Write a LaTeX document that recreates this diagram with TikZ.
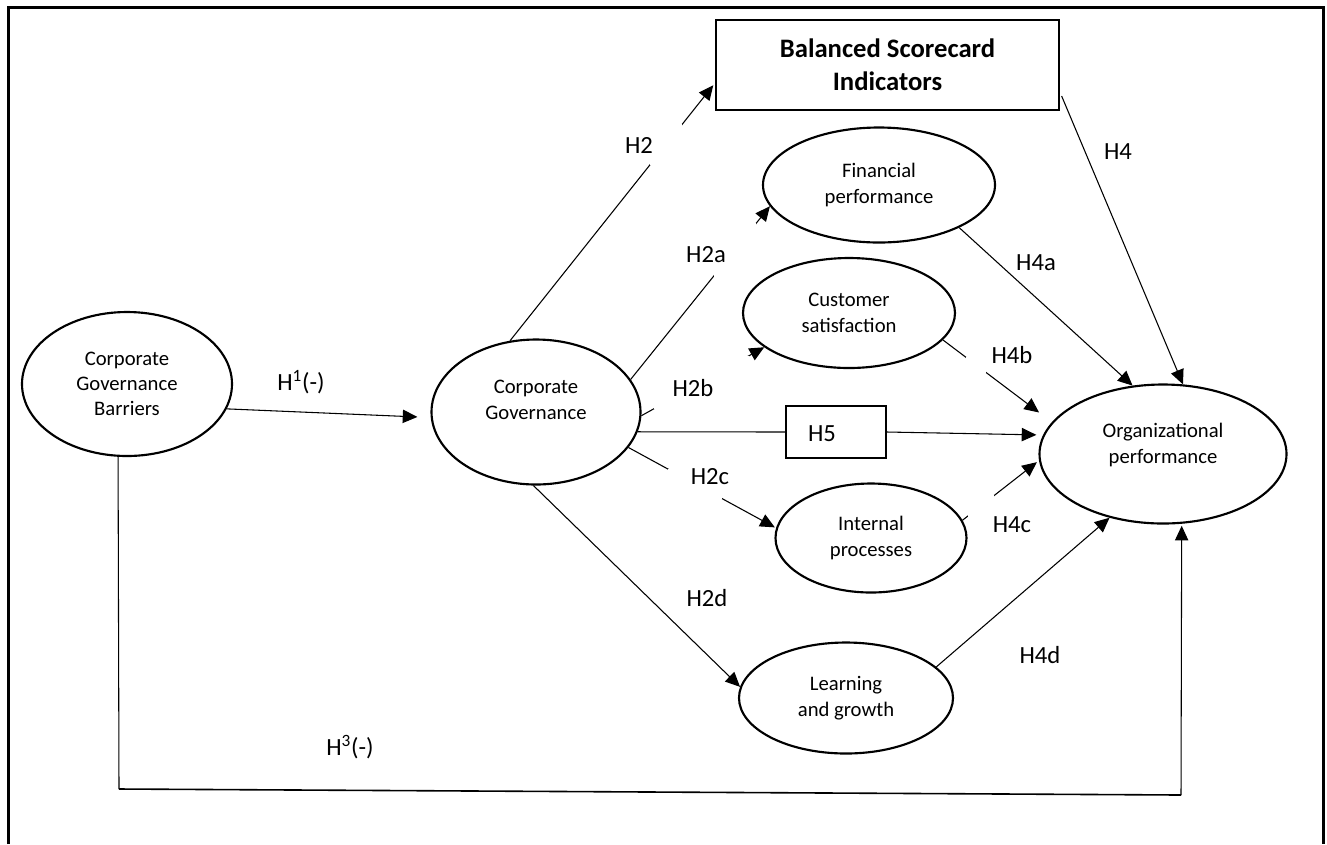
\documentclass[tikz,border=0pt]{standalone}
\usepackage{fontspec}
\setmainfont{Carlito}
\usetikzlibrary{shapes.geometric,arrows.meta}
\begin{document}
\begin{tikzpicture}[x=0.75pt,y=-0.75pt,
  ell/.style={ellipse, draw, line width=1.6pt, inner sep=0pt},
  boxnode/.style={rectangle, draw, line width=1.6pt, inner sep=0pt},
  txt/.style={align=center, font=\fontsize{15.5}{19}\selectfont, inner sep=0pt},
  lbl/.style={font=\fontsize{18.5}{22}\selectfont, inner sep=0pt},
  conn/.style={line width=0.8pt},
  arr/.style={conn, -{Triangle[length=11pt,width=10pt]}},
  gap/.style={fill=white, draw=none, inner sep=0pt},
]
\useasboundingbox (0,0) rectangle (1327,844);

% outer frame (open at the bottom)
\draw[line width=2.25pt] (8,844) -- (8,7) -- (1323,7) -- (1323,844);

% constructs
\node[ell, txt, minimum width=157.5pt, minimum height=108pt] (cgb) at (127,384) {Corporate\\Governance\\Barriers};
\node[ell, minimum width=156.75pt, minimum height=108.75pt] (cg) at (536,412) {};
\node[txt] (cg-t) at (536,400) {Corporate\\Governance};
\node[boxnode, minimum width=257.25pt, minimum height=67.5pt, align=center,
      font=\fontsize{20}{24.75}\selectfont\bfseries] (bsc) at (887.5,65) {Balanced Scorecard\\Indicators};
\node[ell, txt, minimum width=174pt, minimum height=86.25pt] (fp) at (879,185) {Financial\\performance};
\node[ell, txt, minimum width=159pt, minimum height=82.5pt] (cs) at (849,313) {Customer\\satisfaction};
\node[ell, txt, minimum width=143.25pt, minimum height=81.75pt] (ip) at (871,538) {Internal\\processes};
\node[ell, txt, minimum width=160.5pt, minimum height=83.25pt] (lg) at (846,698) {Learning\\and growth};
\node[ell, minimum width=185.25pt, minimum height=104.25pt] (op) at (1163,454) {};
\node[txt] (op-t) at (1163,445) {Organizational\\performance};
\node[boxnode, minimum width=75pt, minimum height=39pt] (h5) at (836,432) {};
\node[lbl] (h5-t) at (822,434) {H5};

% hypotheses paths
\draw[arr, shorten >=10pt] (cgb.-14) -- (cg.183);
\draw[arr, shorten >=2pt] (cg.110.4) -- node[gap, pos=0.761, minimum width=24pt, minimum height=31pt] (g2) {} (bsc.186.6);
\draw[arr] (cg.19) -- node[gap, pos=0.75, minimum width=31.5pt, minimum height=40.5pt] (g2a) {} (fp.191.4);
\draw[arr] (cg.-2.2) -- node[gap, pos=0.488, minimum width=71pt, minimum height=40pt] (g2b) {} (cs.202.5);
\draw[arr, shorten >=1pt] (cg.-21.9) -- node[gap, pos=0.452, minimum width=40pt, minimum height=22.5pt] (g2c) {} (ip.174);
\draw[conn] (cg.-11.6) -- (h5.west);
\draw[arr, shorten >=5pt] (h5.east) -- (op.171);
\draw[arr] (cg.-92.4) -- (lg.174);
\draw[arr, shorten <=3pt] (bsc.-9.3) -- (op.74.6);
\draw[arr] (fp.-28.7) -- (op.114.8);
\draw[arr, shorten >=12pt] (cs.-16.3) -- node[gap, pos=0.306, minimum width=15pt, minimum height=12pt] (g4b) {} (op.164);
\draw[arr, shorten >=2pt] (ip.11.7) -- node[gap, pos=0.24, minimum width=20pt, minimum height=16.5pt] (g4c) {} (op.183.6);
\draw[arr] (lg.19.8) -- (op.230.4);

% direct effect of the barriers on performance
\coordinate (h3a) at (119,789);
\coordinate (h3b) at (1181,795);
\draw[conn] (cgb.263.6) -- (h3a);
\draw[line width=1.2pt] (h3a) -- (h3b);
\draw[arr, shorten >=1.5pt] (h3b) -- (op.-75.3);

% path labels
\node[lbl] (l1) at (301,382) {H\textsuperscript{1}(-)};
\node[lbl] (l2) at (639,145) {H2};
\node[lbl] (l2a) at (706,255) {H2a};
\node[lbl] (l2b) at (693,388) {H2b};
\node[lbl] (l2c) at (710,477) {H2c};
\node[lbl] (l2d) at (707,598) {H2d};
\node[lbl] (l4) at (1118,152) {H4};
\node[lbl] (l4a) at (1036,263) {H4a};
\node[lbl] (l4b) at (1012,355) {H4b};
\node[lbl] (l4c) at (1012,525) {H4c};
\node[lbl] (l4d) at (1040,655) {H4d};
\node[lbl] (l3) at (350,747) {H\textsuperscript{3}(-)};
\end{tikzpicture}
\end{document}
